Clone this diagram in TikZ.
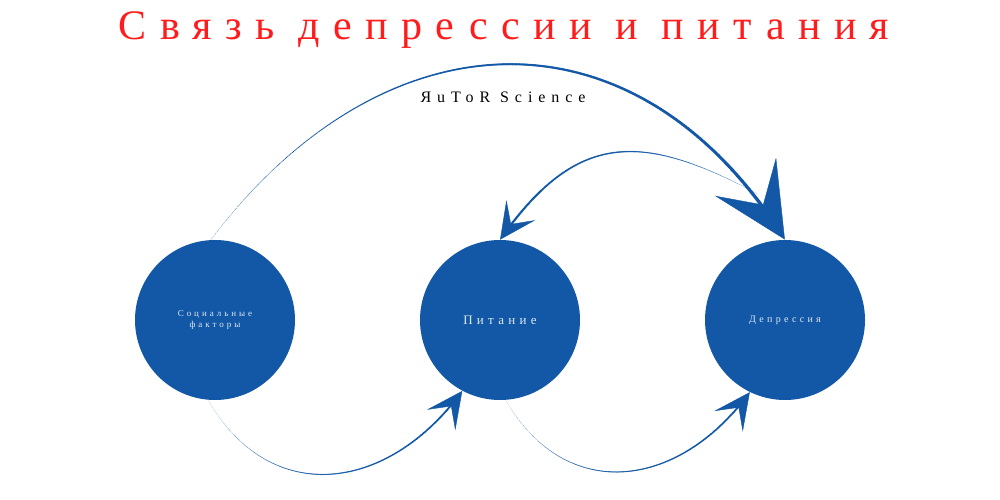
\documentclass[tikz,border=0pt]{standalone}
\usepackage{fontspec}
\usetikzlibrary{arrows.meta,decorations.markings}
\newfontfamily\titlefont[LetterSpace=32]{Liberation Serif}
\newfontfamily\subfont[LetterSpace=37]{Liberation Serif}
\newfontfamily\nodefont[LetterSpace=33]{Liberation Serif}
\definecolor{blueA}{RGB}{18,88,166}
\definecolor{titlered}{RGB}{255,28,28}
\definecolor{pale}{RGB}{224,232,242}
\tikzset{
  bubble/.style={circle, fill=blueA, minimum size=160pt, inner sep=0pt, text=pale, align=center},
  taper/.style n args={3}{
    postaction={decorate, decoration={markings,
      mark=between positions 0 and 0.95 step 0.7pt with {%
        \pgfmathsetmacro\rr{#1+(#2-#1)*\pgfkeysvalueof{/pgf/decoration/mark info/distance from start}/\pgfdecoratedpathlength}%
        \fill[blueA] (0,0) circle (\rr pt);}}},
    postaction={decorate, decoration={markings,
      mark=at position 0.9995 with {\arrow[blueA]{#3}}}}},
  bigtip/.style={taper={0.2}{2.0}{Stealth[length=74pt,width=72pt,inset=33pt]}},
  smalltip/.style 2 args={taper={#1}{#2}{Stealth[length=36pt,width=35pt,inset=17pt]}}
}
\begin{document}
\begin{tikzpicture}[x=1pt,y=1pt]
\useasboundingbox (0,0) rectangle (1000,500);
\node[text=titlered, font={\titlefont\fontsize{42}{48}\selectfont}] (title) at (504,470) {Связь депрессии и питания};
\node[text=black, font={\subfont\fontsize{16}{19}\selectfont}] (sub) at (503,403) {ЯuToR Science};
\node[bubble, font={\nodefont\fontsize{9}{10.5}\selectfont}] (soc) at (215,180) {Социальные\\факторы};
\node[bubble, font={\nodefont\fontsize{13}{15}\selectfont}] (pit) at (500,180) {Питание};
\node[bubble, font={\nodefont\fontsize{10}{12}\selectfont}] (dep) at (785,180) {Депрессия};
\coordinate (d2) at (758,306);
% big arc social -> depression
\path[bigtip] (soc.93) to[out=53, in=122, looseness=1.27] (dep.north);
% depression -> nutrition
\path[smalltip={0.15}{1.4}] (d2) to[out=152, in=55, looseness=1.3] (pit.north);
% social -> nutrition (bottom)
\path[smalltip={0.12}{1.2}] (soc.265) to[out=-60, in=234, looseness=1.26] (pit.242);
% nutrition -> depression (bottom)
\path[smalltip={0.12}{1.2}] (pit.274) to[out=-60, in=234, looseness=1.26] (dep.244);
\end{tikzpicture}
\end{document}
